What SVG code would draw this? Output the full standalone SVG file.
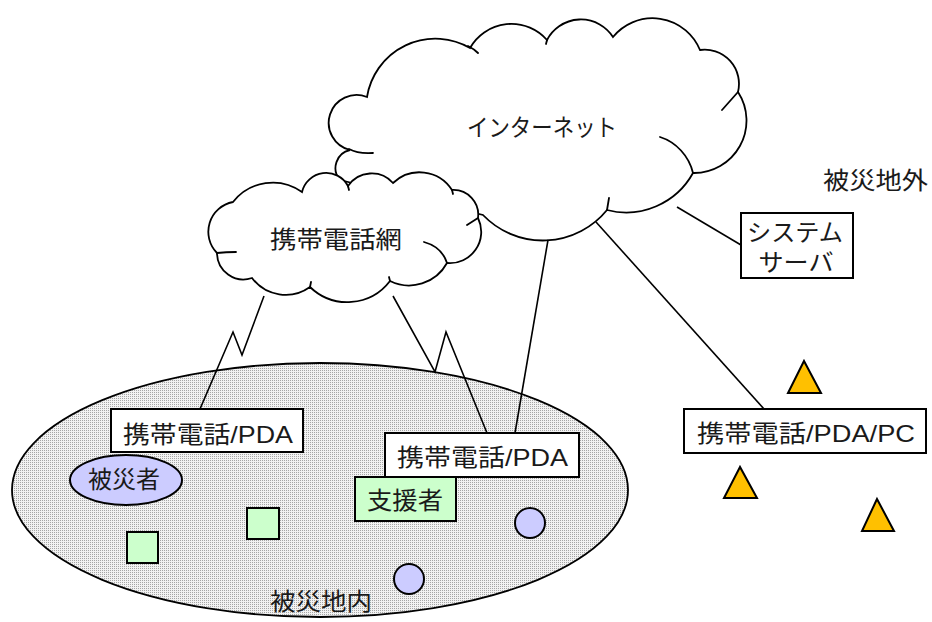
<svg xmlns="http://www.w3.org/2000/svg" width="932" height="622" viewBox="0 0 932 622">
  <defs>
    <!-- fine stipple used for the disaster-area fill -->
    <pattern id="stipple" width="2" height="2" patternUnits="userSpaceOnUse">
      <rect width="2" height="2" fill="#f2f2f2"/>
      <rect width="1" height="1" fill="#a6a6a6"/>
    </pattern>
  </defs>
  <style>
    .ln { fill: none; stroke: #000; stroke-width: 1.6; stroke-linejoin: miter; }
    .cloud { fill: #fff; stroke: #000; stroke-width: 1.8; }
    .inner { fill: none; stroke: #000; stroke-width: 1.8; stroke-linecap: round; }
    .box { fill: #fff; stroke: #000; stroke-width: 2; }
    .green { fill: #ccffcc; stroke: #000; stroke-width: 2; }
    .lav { fill: #ccccff; stroke: #000; stroke-width: 2; }
    .tri { fill: #ffc000; stroke: #000; stroke-width: 2; stroke-linejoin: miter; }
    .t { font-family: "Liberation Sans", "Noto Sans CJK JP", sans-serif; font-size: 24px; fill: #1a1a1a; }
  </style>

  <rect width="932" height="622" fill="#fff"/>

  <!-- disaster area -->
  <g id="area-inside">
    <ellipse cx="320" cy="490" rx="308" ry="127" fill="url(#stipple)" stroke="#000" stroke-width="1.8"/>
    <text class="t" x="270" y="610" textLength="102" lengthAdjust="spacingAndGlyphs">被災地内</text>
  </g>

  <g id="label-outside">
    <text class="t" x="823" y="189" textLength="105" lengthAdjust="spacingAndGlyphs">被災地外</text>
  </g>

  <!-- internet cloud -->
  <g id="cloud-internet">
    <path class="cloud" d="M367,97
      A69.2,69.2 0 0 1 470,48
      A47.5,47.5 0 0 1 547,40
      A38.2,38.2 0 0 1 613,37
      A51.2,51.2 0 0 1 700,50
      A34.2,34.2 0 0 1 738,92
      A52.4,52.4 0 0 1 693,173
      A76.4,76.4 0 0 1 607,210
      A82.8,82.8 0 0 1 483,215
      L340,180
      A18.4,18.4 0 0 1 350,150
      A27.9,27.9 0 1 1 367,97 Z"/>
    <path class="inner" d="M349,149 Q358,154 373,153 M468,46 Q474,49 478,53 M547,40 L546,44 M738,92 Q730,101 722,110 M660,137 C676,142 689,156 693,173 M607,210 L609,198"/>
    <text class="t" x="542" y="136" text-anchor="middle" textLength="150" lengthAdjust="spacingAndGlyphs">インターネット</text>
  </g>

  <!-- mobile phone network cloud -->
  <g id="cloud-mobile">
    <path class="cloud" d="M233,202
      A50.4,50.4 0 0 1 302,192
      A24.8,24.8 0 0 1 348,186
      A28.6,28.6 0 0 1 393,183
      A38.5,38.5 0 0 1 452,190
      A24.8,24.8 0 0 1 478,218
      A31.3,31.3 0 0 1 447,263
      A43.2,43.2 0 0 1 390,281
      A53.7,53.7 0 0 1 310,287
      A41.9,41.9 0 0 1 252,278
      A26.5,26.5 0 0 1 217,253
      A30.3,30.3 0 0 1 233,202 Z"/>
    <path class="inner" d="M424,242 Q442,247 447,263 M217,253 Q226,252 236,252 M478,218 L467,225 M310,287 L311,282 M390,281 L389,277 M348,186 L349,190 M452,190 L453,194"/>
    <text class="t" x="336" y="248" text-anchor="middle" textLength="132" lengthAdjust="spacingAndGlyphs">携帯電話網</text>
  </g>

  <!-- links -->
  <g id="connectors">
    <polyline class="ln" points="264,296 242,355 233,332 200,409"/>
    <polyline class="ln" points="393,296 435,372 446,332 487,433"/>
    <line class="ln" x1="548" y1="240" x2="515" y2="433"/>
    <line class="ln" x1="596" y1="222" x2="764" y2="409"/>
    <line class="ln" x1="677" y1="207" x2="741" y2="245"/>
  </g>

  <g id="device-left">
    <rect class="box" x="111" y="409" width="192" height="43"/>
    <text class="t" x="123" y="443" textLength="170" lengthAdjust="spacingAndGlyphs">携帯電話/PDA</text>
  </g>

  <g id="victim">
    <ellipse class="lav" cx="126" cy="480" rx="56" ry="25"/>
    <text class="t" x="124" y="488" text-anchor="middle" textLength="72" lengthAdjust="spacingAndGlyphs">被災者</text>
  </g>

  <g id="device-center">
    <rect class="box" x="385" y="433" width="194" height="44"/>
    <text class="t" x="397" y="466" textLength="171" lengthAdjust="spacingAndGlyphs">携帯電話/PDA</text>
  </g>

  <g id="supporter">
    <rect class="green" x="355" y="477" width="101" height="44"/>
    <text class="t" x="367" y="509" textLength="76" lengthAdjust="spacingAndGlyphs">支援者</text>
  </g>

  <g id="supporters-other">
    <rect class="green" x="127" y="532" width="31" height="31"/>
    <rect class="green" x="247" y="508" width="32" height="31"/>
  </g>

  <g id="victims-other">
    <circle class="lav" cx="530" cy="523" r="15"/>
    <circle class="lav" cx="409" cy="579" r="15"/>
  </g>

  <g id="server">
    <rect class="box" x="741" y="213" width="112" height="65"/>
    <text class="t" x="795" y="241" text-anchor="middle" textLength="96" lengthAdjust="spacingAndGlyphs">システム</text>
    <text class="t" x="796" y="271" text-anchor="middle" textLength="75" lengthAdjust="spacingAndGlyphs">サーバ</text>
  </g>

  <g id="device-remote">
    <rect class="box" x="684" y="409" width="242" height="44"/>
    <text class="t" x="697" y="442" textLength="218" lengthAdjust="spacingAndGlyphs">携帯電話/PDA/PC</text>
  </g>

  <g id="users-outside">
    <polygon class="tri" points="804,361 788,393 821,393"/>
    <polygon class="tri" points="740,467 724,498 757,498"/>
    <polygon class="tri" points="877,499 862,531 894,531"/>
  </g>
</svg>
